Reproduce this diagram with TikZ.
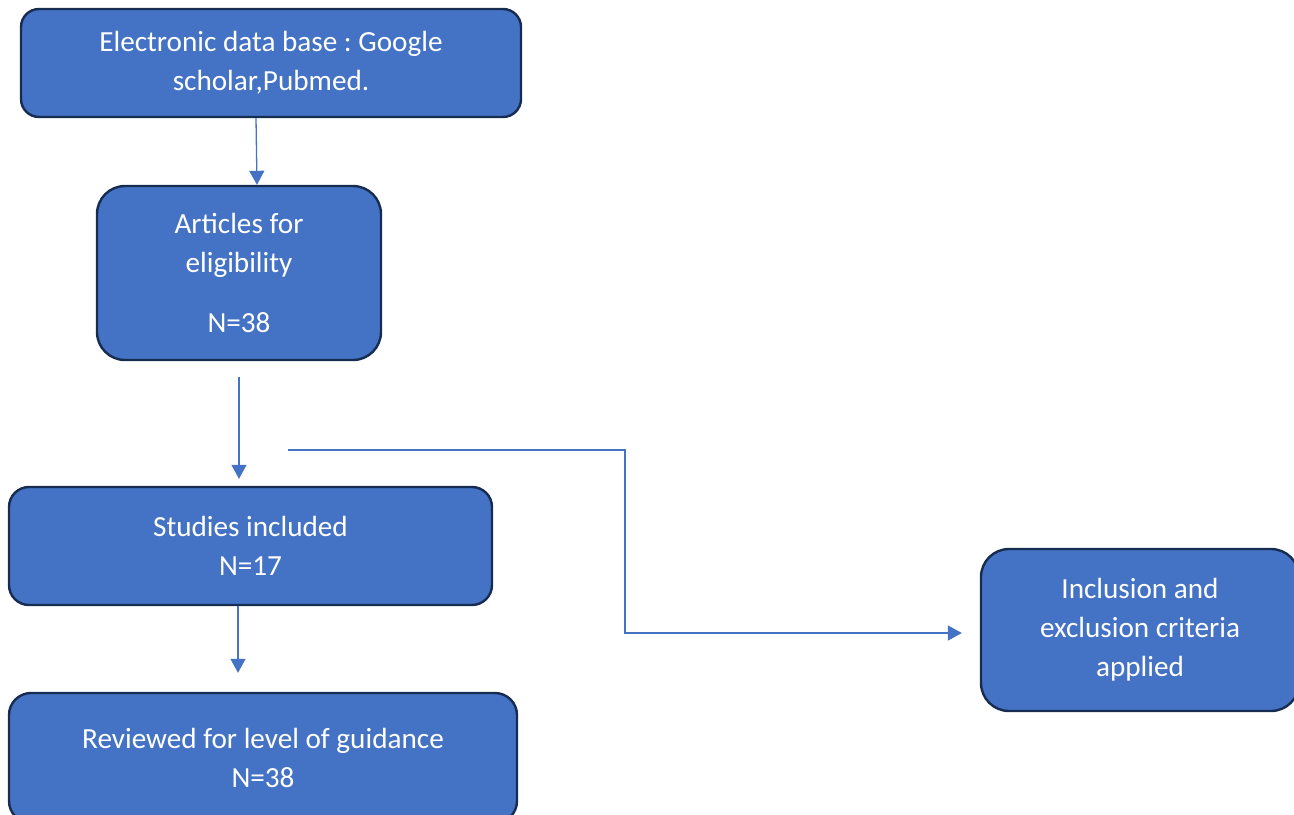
\documentclass[tikz,border=0pt]{standalone}
\usepackage{fontspec}
\setmainfont{Carlito}
\frenchspacing
\usetikzlibrary{arrows.meta}
\definecolor{boxfill}{HTML}{4472C4}
\definecolor{boxline}{HTML}{172C51}
\tikzstyle{flowbox} = [rectangle, fill=boxfill, draw=boxline, line width=1.2pt, text=white, align=center, inner sep=0pt, font=\fontsize{14.6}{19.5}\selectfont]
\tikzstyle{arr} = [draw=boxfill, line width=0.65pt, -{Triangle[length=7pt,width=7.5pt]}]

\begin{document}
\begin{tikzpicture}[x=0.5pt, y=-0.5pt]
\useasboundingbox (0,0) rectangle (1294,814);
\clip (0,0) rectangle (1294,814);

% Define nodes
\node[flowbox, minimum width=250pt, minimum height=54pt, rounded corners=9pt]   (db)  at (271,63)   {Electronic data base : Google\\scholar,Pubmed.};
\node[flowbox, minimum width=142pt, minimum height=87pt, rounded corners=14pt]  (art) at (239,273)  {Articles for\\eligibility\\[10.5pt]N=38};
\node[flowbox, minimum width=241.5pt, minimum height=59pt, rounded corners=10pt] (stu) at (250.5,546) {Studies included\\N=17};
\node[flowbox, minimum width=254pt, minimum height=65pt, rounded corners=11pt]  (rev) at (263,758)  {Reviewed for level of guidance\\N=38};
\node[flowbox, minimum width=159pt, minimum height=81pt, rounded corners=14pt]  (inc) at (1140,630) {Inclusion and\\exclusion criteria\\applied};

\coordinate (split) at (288,450);
\coordinate (bend)  at (625,450);

% Edges
\draw[arr] ([xshift=-7.5pt]db.south) -- (art.north -| 257,0);
\draw[arr, shorten <=8pt, shorten >=3.5pt] (art.south) -- (art.south |- stu.north);
\draw[arr, shorten >=9.5pt] (stu.south -| 238,0) -- (rev.north -| 238,0);
\draw[arr, shorten >=9pt] (split) -- (bend) |- ([yshift=-1.5pt]inc.west);
\end{tikzpicture}
\end{document}
